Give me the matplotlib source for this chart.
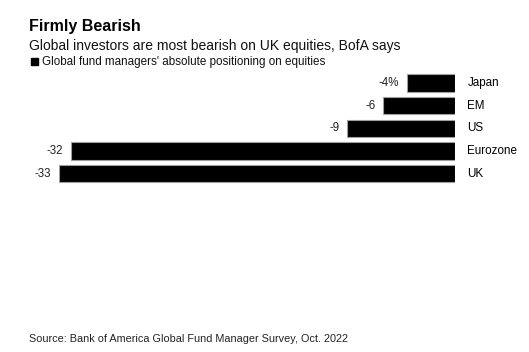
import matplotlib.pyplot as plt

plt.rcParams['font.family'] = ['Liberation Sans', 'DejaVu Sans']

# Data
regions = ['Japan', 'EM', 'US', 'Eurozone', 'UK']
positioning = [-4, -6, -9, -32, -33]
value_labels = ['-4%', '-6', '-9', '-32', '-33']

W, H = 529, 352
fig = plt.figure(figsize=(W / 100, H / 100), dpi=100)

# axes placed in pixel coordinates
left, right = 59, 455
top, bottom = 71.6, 185
ax = fig.add_axes([left / W, 1 - bottom / H, (right - left) / W, (bottom - top) / H])

ypos = list(range(len(regions)))
ax.barh(ypos, positioning, height=0.76, color='black', edgecolor='#a0a0a0', linewidth=0.8)

ax.set_xlim(-33, 0)
ax.set_ylim(len(regions) - 0.5, -0.5)
ax.axis('off')

for y, v, lab, reg in zip(ypos, positioning, value_labels, regions):
    ax.annotate(lab, (v, y), xytext=(-5.5, 0), textcoords='offset points',
                ha='right', va='center', fontsize=8.3, color='#222222', annotation_clip=False)
    ax.annotate(reg, (0, y), xytext=(9, 0), textcoords='offset points',
                ha='left', va='center', fontsize=8.4, color='black', annotation_clip=False)

# Header text
fig.text(29 / W, 1 - 26 / H, 'Firmly Bearish', fontsize=11.5, fontweight='bold',
         ha='left', va='center')
fig.text(29 / W, 1 - 46 / H, 'Global investors are most bearish on UK equities, BofA says',
         fontsize=10, ha='left', va='center', color='#111111')
fig.patches.append(plt.Rectangle((31 / W, 1 - 65 / H), 7 / W, 7 / H, color='black',
                                 transform=fig.transFigure, figure=fig))
fig.text(42 / W, 1 - 61.5 / H, "Global fund managers' absolute positioning on equities",
         fontsize=8.4, ha='left', va='center', color='#111111')

fig.text(29 / W, 1 - 339 / H, 'Source: Bank of America Global Fund Manager Survey, Oct. 2022',
         fontsize=7.8, ha='left', va='center', color='#222222')

plt.savefig('out.png', dpi=100)
plt.close()
